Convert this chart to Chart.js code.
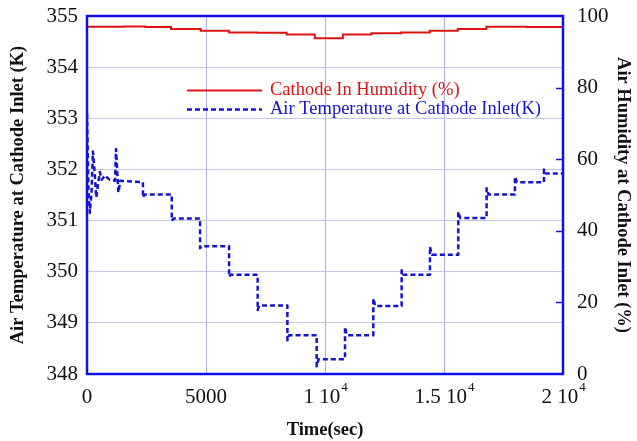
<!DOCTYPE html>
<html>
<head>
<meta charset="utf-8">
<script src="https://cdn.jsdelivr.net/npm/chart.js@4.4.0/dist/chart.umd.min.js"></script>
<style>
  html, body { margin: 0; padding: 0; background: #fff; }
</style>
</head>
<body>
<canvas id="chart" width="637" height="441"></canvas>
<script>
// Air temperature at cathode inlet (K), vertical jumps are repeated times
const tempTime = [0, 25, 60, 120, 190, 250, 320, 390, 460, 540, 620, 750, 950, 1180, 1220, 1270, 1320, 1400,
  2350, 2350, 2420, 3560, 3560, 3640, 4750, 4750, 4820, 5970, 5970, 6040,
  7170, 7170, 7240, 8420, 8420, 8490, 9650, 9650, 9730,
  10840, 10840, 10920, 12030, 12030, 12110, 13220, 13220, 13300, 14410, 14410, 14490,
  15600, 15600, 15680, 16790, 16790, 16870, 17980, 17980, 18060, 19200, 19200, 19280, 20000];
const tempK = [353.1, 352.5, 351.6, 351.15, 351.55, 352.35, 351.95, 351.45, 351.7, 351.95, 351.8, 351.88, 351.8, 351.78, 352.4, 351.95, 351.55, 351.78,
  351.75, 351.45, 351.51, 351.51, 351.0, 351.04, 351.04, 350.46, 350.5, 350.5, 349.9, 349.94,
  349.94, 349.25, 349.34, 349.34, 348.66, 348.76, 348.76, 348.15, 348.29,
  348.29, 348.92, 348.76, 348.76, 349.48, 349.33, 349.33, 350.03, 349.94, 349.94, 350.49, 350.33,
  350.33, 351.17, 351.05, 351.05, 351.63, 351.51, 351.51, 351.86, 351.75, 351.75, 352.0, 351.92, 351.92];

// Cathode inlet humidity (%), each value holds from its time on
const humTime = [0, 1550, 2460, 3530, 4780, 5970, 7150, 8390, 9570, 10750, 11950, 13200, 14400, 15580, 16780, 18500, 20000];
const humPct = [97.0, 97.1, 96.9, 96.4, 95.9, 95.4, 95.3, 94.8, 93.8, 94.8, 95.2, 95.4, 95.9, 96.4, 97.0, 96.9, 96.9];

// time ticks: mantissa text and power of ten
const xTicks = [0, 5000, 10000, 15000, 20000];
const xTickText = ['0', '5000', '1 10', '1.5 10', '2 10'];
const xTickPow = ['', '', '4', '4', '4'];

const SERIF = '"Liberation Serif", "Times New Roman", serif';
const RED = '#dc1414';
const BLUE = '#1414d2';
const FRAME = '#1010e6';
const GRID = '#c6c6e6';

const tickFont = { family: SERIF, size: 21 };
const titleFont = { family: SERIF, size: 18.5, weight: 'bold' };

// keep each axis box at a fixed size, no extra label padding
function fixBox(w, h) {
  return s => {
    if (w) s.width = w;
    if (h) s.height = h;
    s.paddingTop = s.paddingBottom = s.paddingLeft = s.paddingRight = 0;
  };
}

// plot frame plus inward ticks of the humidity axis
const framePlugin = {
  id: 'frame',
  afterDatasetsDraw(chart) {
    const { ctx, chartArea: a } = chart;
    const hum = chart.scales.yHum;
    ctx.save();
    ctx.strokeStyle = FRAME;
    ctx.lineWidth = 1.5;
    hum.ticks.forEach(t => {
      if (t.value <= 0 || t.value >= 100) return;
      const y = Math.round(hum.getPixelForValue(t.value)) + 0.5;
      ctx.beginPath();
      ctx.moveTo(a.right - 7, y);
      ctx.lineTo(a.right, y);
      ctx.stroke();
    });
    ctx.lineWidth = 2.5;
    ctx.strokeRect(a.left, a.top, a.right - a.left, a.bottom - a.top);
    ctx.restore();
  }
};

// time labels with a raised exponent
const timeLabelPlugin = {
  id: 'timeLabels',
  afterDraw(chart) {
    const { ctx } = chart;
    const x = chart.scales.x;
    const y = chart.chartArea.bottom + 23;
    ctx.save();
    ctx.fillStyle = '#111';
    ctx.textBaseline = 'middle';
    ctx.textAlign = 'left';
    xTicks.forEach((v, i) => {
      ctx.font = '21px ' + SERIF;
      const w1 = ctx.measureText(xTickText[i]).width;
      ctx.font = '13px ' + SERIF;
      const w2 = xTickPow[i] ? ctx.measureText(xTickPow[i]).width : 0;
      const left = x.getPixelForValue(v) - (w1 + w2) / 2;
      ctx.font = '21px ' + SERIF;
      ctx.fillText(xTickText[i], left, y);
      if (w2) {
        ctx.font = '13px ' + SERIF;
        ctx.fillText(xTickPow[i], left + w1 + 1, y - 9);
      }
    });
    ctx.restore();
  }
};

// legend drawn inside the plot
const legendPlugin = {
  id: 'innerLegend',
  afterDraw(chart) {
    const { ctx } = chart;
    const rows = [90.5, 109.5];
    ctx.save();
    ctx.font = '18.5px ' + SERIF;
    ctx.textBaseline = 'middle';
    chart.data.datasets.forEach((ds, i) => {
      const y = rows[i];
      ctx.strokeStyle = ds.borderColor;
      ctx.lineWidth = ds.borderWidth;
      ctx.setLineDash(ds.borderDash || []);
      ctx.beginPath();
      ctx.moveTo(187, y);
      ctx.lineTo(262, y);
      ctx.stroke();
      ctx.setLineDash([]);
      ctx.fillStyle = ds.borderColor;
      ctx.fillText(ds.label, 270, y);
    });
    ctx.restore();
  }
};

const tempPoints = tempTime.map((t, i) => ({ x: t, y: tempK[i] }));
const humPoints = humTime.map((t, i) => ({ x: t, y: humPct[i] }));

new Chart(document.getElementById('chart'), {
  type: 'line',
  data: {
    datasets: [
      {
        label: 'Cathode In Humidity (%)',
        data: humPoints,
        yAxisID: 'yHum',
        borderColor: RED,
        borderWidth: 2,
        stepped: true,
        pointRadius: 0
      },
      {
        label: 'Air Temperature at Cathode Inlet(K)',
        data: tempPoints,
        yAxisID: 'yTemp',
        borderColor: BLUE,
        borderWidth: 2.5,
        borderDash: [5, 3],
        borderJoinStyle: 'round',
        borderCapStyle: 'butt',
        pointRadius: 0,
        tension: 0
      }
    ]
  },
  options: {
    responsive: false,
    animation: false,
    layout: { autoPadding: false, padding: { top: 16, left: 0, right: 0, bottom: 0 } },
    plugins: { legend: { display: false }, tooltip: { enabled: false } },
    scales: {
      x: {
        type: 'linear',
        min: 0,
        max: 20000,
        afterBuildTicks: s => { s.ticks = xTicks.map(v => ({ value: v })); },
        afterFit: fixBox(0, 67),
        ticks: { display: false },
        grid: { color: '#aeaee0', lineWidth: 1, drawTicks: false },
        border: { display: false },
        title: { display: true, text: 'Time(sec)', font: titleFont, color: '#111', padding: { top: 0, bottom: 0 } }
      },
      yTemp: {
        position: 'left',
        min: 348,
        max: 355,
        afterFit: fixBox(87, 0),
        ticks: { stepSize: 1, font: tickFont, color: '#111', padding: 9 },
        grid: { color: GRID, lineWidth: 1, drawTicks: false },
        border: { display: false },
        title: { display: true, text: 'Air Temperature at Cathode Inlet (K)', font: titleFont, color: '#111', padding: { top: 7, bottom: 0 } }
      },
      yHum: {
        position: 'right',
        min: 0,
        max: 100,
        afterFit: fixBox(74, 0),
        ticks: { stepSize: 20, font: tickFont, color: '#111', padding: 14 },
        grid: { drawOnChartArea: false, drawTicks: false },
        border: { display: false },
        title: { display: true, text: 'Air Humidity at Cathode Inlet (%)', font: titleFont, color: '#111', padding: { top: 3, bottom: 0 } }
      }
    }
  },
  plugins: [framePlugin, timeLabelPlugin, legendPlugin]
});
</script>
</body>
</html>
